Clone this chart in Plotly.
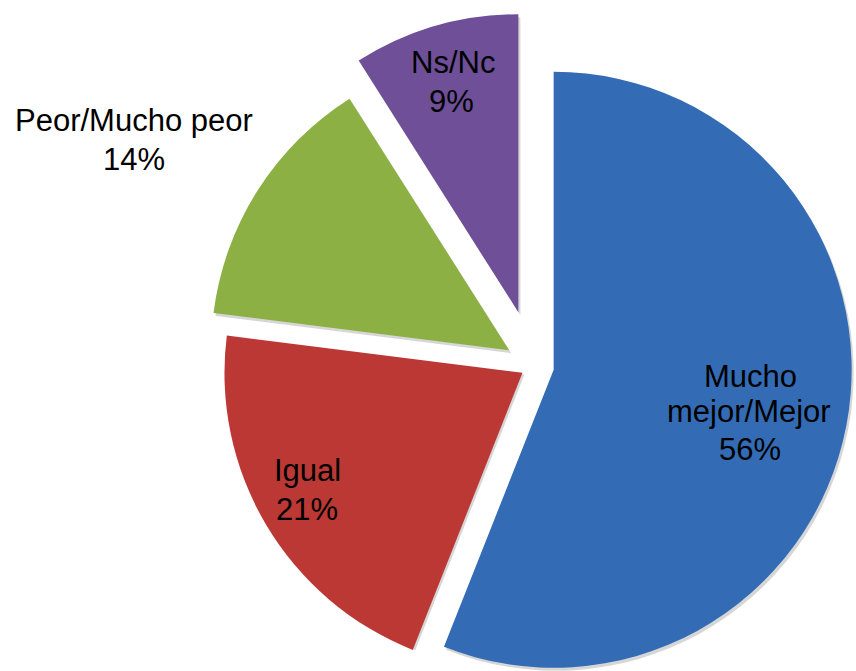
import math
import plotly.graph_objects as go

# ---- data ----
categories = ["Mucho mejor/Mejor", "Igual", "Peor/Mucho peor", "Ns/Nc"]
values = [56, 21, 14, 9]
label_lines = [["Mucho", "mejor/Mejor", "56%"], ["Igual", "21%"], ["Peor/Mucho peor", "14%"], ["Ns/Nc", "9%"]]

# ---- style ----
colors = ["#336CB5", "#BC3835", "#8CB043", "#6F5098"]
explode_px = [20, 13.4, 29.4, 56]          # how far each slice is pulled out
W, H = 856, 671
R = 298                                     # pie radius in px
CX, CY = 534, 366                           # un-exploded pie centre (px, from top-left)
# per-line label positions (px, centre of capitals)
label_pos = [[(750, 376), (749, 411), (750, 449)],
             [(307, 470), (307, 509)],
             [(133.5, 120), (133.5, 159)],
             [(452.5, 62.5), (451, 101.7)]]
FONT = "'Liberation Sans', Arial, sans-serif"
FS = 31

total = float(sum(values))
fig = go.Figure()

def slice_center(k):
    start = sum(values[:k]) / total * 360.0
    mid = math.radians(start + values[k] / total * 180.0)
    ux, uy = math.sin(mid), -math.cos(mid)
    return CX + explode_px[k] * ux, CY + explode_px[k] * uy

def domain_for(cx, cy):
    x0 = max(0.0, (cx - R) / W); x1 = min(1.0, (cx + R) / W)
    y0 = max(0.0, 1 - (cy + R) / H); y1 = min(1.0, 1 - (cy - R) / H)
    return dict(x=[x0, x1], y=[y0, y1])

# soft shadows then slices
for layer in ("shadow", "slice"):
    for k in range(len(values)):
        cx, cy = slice_center(k)
        if layer == "shadow":
            cx, cy = cx + 2, cy + 3
            cols = ["rgba(0,0,0,0.16)" if i == k else "rgba(0,0,0,0)" for i in range(len(values))]
        else:
            cols = [colors[i] if i == k else "rgba(0,0,0,0)" for i in range(len(values))]
        fig.add_trace(go.Pie(
            labels=categories, values=values, sort=False, direction="clockwise",
            rotation=0, domain=domain_for(cx, cy),
            marker=dict(colors=cols, line=dict(width=0)),
            textinfo="none", hoverinfo="skip", showlegend=False,
        ))

for lines, poss in zip(label_lines, label_pos):
    for txt, (x, y) in zip(lines, poss):
        fig.add_annotation(x=x / W, y=1 - y / H, xref="paper", yref="paper",
                           text=txt, showarrow=False, xanchor="center", yanchor="middle",
                           font=dict(family=FONT, size=FS, color="black"))

fig.update_layout(width=W, height=H, margin=dict(l=0, r=0, t=0, b=0),
                  paper_bgcolor="white", plot_bgcolor="white", showlegend=False)
fig.write_html("out.html", config={"displayModeBar": False},
               post_script="document.body.style.margin='0';document.body.style.overflow='hidden';")
